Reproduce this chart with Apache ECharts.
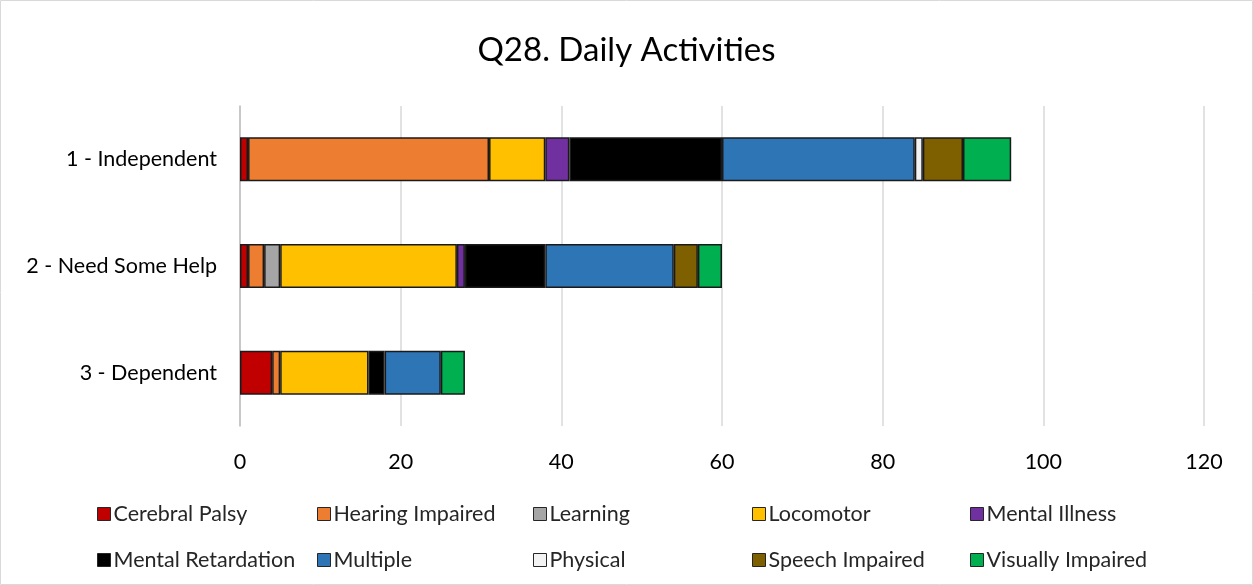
<!DOCTYPE html>
<html>
<head>
<meta charset="utf-8">
<script src="https://cdn.jsdelivr.net/npm/echarts@6/dist/echarts.min.js"></script>
<style>
  html, body { margin: 0; padding: 0; background: #fff; }
  #main { width: 1253px; height: 585px; }
</style>
</head>
<body>
<div id="main"></div>
<script>
var categories = ['1 - Independent', '2 - Need Some Help', '3 - Dependent'];
var seriesNames = ['Cerebral Palsy', 'Hearing Impaired', 'Learning', 'Locomotor', 'Mental Illness',
  'Mental Retardation', 'Multiple', 'Physical', 'Speech Impaired', 'Visually Impaired'];
var colors = ['#C00000', '#ED7D31', '#A5A5A5', '#FFC000', '#7030A0',
  '#000000', '#2E75B6', '#F2F2F2', '#7F6000', '#00B050'];

var cerebralPalsy = [1, 1, 4];
var hearingImpaired = [30, 2, 1];
var learning = [0, 2, 0];
var locomotor = [7, 22, 11];
var mentalIllness = [3, 1, 0];
var mentalRetardation = [19, 10, 2];
var multiple = [24, 16, 7];
var physical = [1, 0, 0];
var speechImpaired = [5, 3, 0];
var visuallyImpaired = [6, 3, 3];

var values = [cerebralPalsy, hearingImpaired, learning, locomotor, mentalIllness,
  mentalRetardation, multiple, physical, speechImpaired, visuallyImpaired];

var font = 'Lato, "Open Sans", sans-serif';

var chart = echarts.init(document.getElementById('main'));

var series = seriesNames.map(function (name, i) {
  return {
    name: name,
    type: 'bar',
    stack: 'total',
    barWidth: 44,
    data: values[i].map(function (v) { return v === 0 ? null : v; }),
    itemStyle: { color: colors[i], borderColor: '#1a1a1a', borderWidth: 1.5 }
  };
});

// one legend per column, two rows each
var legendLefts = [92, 312, 528, 747, 965];
var legends = legendLefts.map(function (left, c) {
  return {
    orient: 'vertical',
    left: left,
    top: 498,
    itemGap: 24,
    itemWidth: 13,
    itemHeight: 13,
    icon: 'rect',
    data: [seriesNames[c], seriesNames[c + 5]],
    textStyle: { fontFamily: font, fontSize: 21.5, color: '#262626', padding: [0, 0, 0, -2] },
    itemStyle: { borderColor: '#262626', borderWidth: 1 }
  };
});

var option = {
  animation: false,
  color: colors,
  title: {
    text: 'Q28. Daily Activities',
    left: 'center',
    top: 29,
    textStyle: { fontFamily: font, fontSize: 33, fontWeight: 'normal', color: '#000' }
  },
  graphic: [{
    type: 'rect',
    shape: { x: 0.5, y: 0.5, width: 1252, height: 584 },
    style: { fill: 'none', stroke: '#d9d9d9', lineWidth: 1 }
  }],
  grid: { left: 240, right: 49, top: 106, bottom: 159 },
  xAxis: {
    type: 'value',
    min: 0,
    max: 120,
    interval: 20,
    axisLine: { show: false },
    axisTick: { show: false },
    splitLine: { lineStyle: { color: '#d9d9d9', width: 1.5 } },
    axisLabel: { fontFamily: font, fontSize: 21.5, color: '#000', margin: 25 }
  },
  yAxis: {
    type: 'category',
    data: categories,
    inverse: true,
    axisLine: { lineStyle: { color: '#bfbfbf', width: 1.5 } },
    axisTick: { show: false },
    axisLabel: { fontFamily: font, fontSize: 21.5, color: '#000', margin: 23 }
  },
  legend: legends,
  series: series
};

chart.setOption(option);
</script>
</body>
</html>
